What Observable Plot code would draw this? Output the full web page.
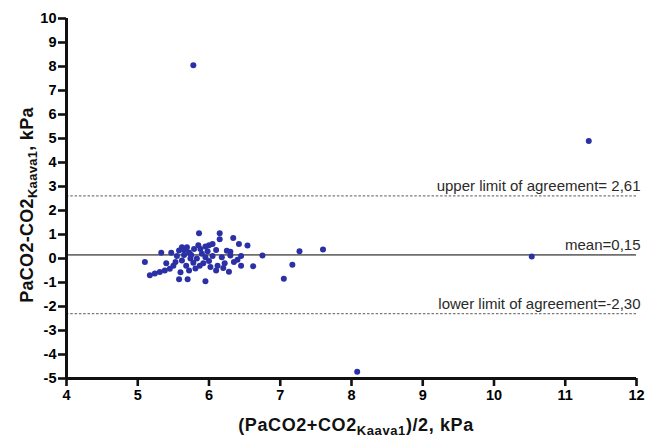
<!DOCTYPE html>
<html>
<head>
<meta charset="utf-8">
<script src="https://cdn.jsdelivr.net/npm/d3@7"></script>
<script src="https://cdn.jsdelivr.net/npm/@observablehq/plot@0.6"></script>
<style>
  html, body { margin: 0; padding: 0; background: #fff; }
  svg { display: block; }
  svg g[aria-label$="tick label"], svg g[aria-label$="tick label"] text {
    font-weight: 700 !important;
    font-family: "Liberation Sans", Arial, sans-serif !important;
  }
</style>
</head>
<body>
<div id="chart"></div>
<script>
const meanValues = [
  5.78, 11.33, 10.53, 8.08,
  7.60, 7.27, 6.75, 7.17, 7.05, 6.62, 6.54, 6.42, 6.34, 6.15, 6.15, 5.86,
  5.10, 5.17, 5.24, 5.31, 5.38, 5.45, 5.33, 5.47, 5.58, 5.62, 5.69, 5.79, 5.88,
  5.53, 5.62, 5.74, 5.83, 5.58, 5.70, 5.60, 5.72, 5.81, 5.95,
  5.55, 5.65, 5.72, 5.90, 5.95, 6.00, 5.85, 5.98, 6.05, 6.10, 6.00, 5.92, 6.02,
  6.10, 5.87, 6.25, 6.30, 6.22, 6.35, 6.30, 6.45, 6.20, 6.28, 6.12, 6.18, 5.78,
  5.68, 5.50, 5.40, 5.65, 5.75, 6.05, 5.95, 6.40, 6.45
];
const diffValues = [
  8.05, 4.90, 0.08, -4.72,
  0.38, 0.30, 0.13, -0.26, -0.84, -0.32, 0.54, 0.60, 0.85, 1.05, 0.80, 1.05,
  -0.15, -0.70, -0.63, -0.56, -0.50, -0.43, 0.24, 0.24, 0.33, 0.47, 0.47, 0.40, 0.40,
  -0.15, -0.08, 0.00, 0.00, -0.86, -0.86, -0.57, -0.50, -0.42, -0.95,
  0.10, 0.15, 0.25, 0.20, 0.50, 0.55, 0.55, 0.30, 0.10, 0.35, -0.10, -0.20, -0.35,
  -0.50, -0.30, 0.32, 0.28, -0.20, -0.15, 0.12, 0.10, -0.40, -0.55, -0.30, 0.05, -0.18,
  -0.30, -0.30, -0.20, 0.35, 0.15, 0.60, 0.05, -0.05, -0.30
];

const meanDiff = [0.15];
const limitValues = [2.61, -2.30];
const annotationLabels = ["upper limit of agreement= 2,61", "mean=0,15", "lower limit of agreement=-2,30"];
const annotationY = [2.61, 0.15, -2.30];

const xTicks = [4, 5, 6, 7, 8, 9, 10, 11, 12];
const yTicks = [-5, -4, -3, -2, -1, 0, 1, 2, 3, 4, 5, 6, 7, 8, 9, 10];

const points = meanValues.map((x, i) => ({x, y: diffValues[i]}));
const annotations = annotationLabels.map((t, i) => ({t, y: annotationY[i]}));

const font = "'Liberation Sans', Arial, Helvetica, sans-serif";

const svg = Plot.plot({
  width: 652,
  height: 437,
  marginLeft: 66,
  marginRight: 16,
  marginTop: 18,
  marginBottom: 59,
  style: {fontFamily: font, background: "#fff", color: "#111"},
  x: {domain: [4, 12]},
  y: {domain: [-5, 10]},
  marks: [
    Plot.ruleY(meanDiff, {y: d => d, stroke: "#6e6e6e", strokeWidth: 1.6}),
    Plot.ruleY(limitValues, {y: d => d, stroke: "#7a7a7a", strokeWidth: 1.2, strokeDasharray: "2.5,1.8"}),
    Plot.text(annotations, {x: 12, y: "y", text: "t", textAnchor: "end", dx: 4, dy: -10,
      fill: "#2a2a2a", fontSize: 15, fontFamily: font}),
    Plot.dot(points, {x: "x", y: "y", r: 3, fill: "#2b30a6", stroke: "none"}),
    Plot.axisX({ticks: xTicks, tickFormat: d => String(d), tickSize: 8, tickPadding: 3,
      strokeWidth: 2.6, stroke: "#111", fill: "#000", fontWeight: "bold", fontSize: 14.5, label: null}),
    Plot.axisY({ticks: yTicks, tickFormat: d => String(d), tickSize: 8, tickPadding: 2,
      strokeWidth: 2.6, stroke: "#111", fill: "#000", fontWeight: "bold", fontSize: 14.5, label: null}),
    Plot.ruleX([4], {stroke: "#111", strokeWidth: 3}),
    Plot.ruleY([-5], {stroke: "#111", strokeWidth: 3})
  ]
});

const s = d3.select(svg);

// X axis title with subscript
const xt = s.append("text")
  .attr("x", 356).attr("y", 431)
  .attr("text-anchor", "middle")
  .attr("font-family", font).attr("font-weight", "bold").attr("font-size", 18)
  .attr("letter-spacing", 0.6)
  .attr("fill", "#111");
xt.append("tspan").text("(PaCO2+CO2");
xt.append("tspan").attr("dy", 4).attr("font-size", 13).text("Kaava1");
xt.append("tspan").attr("dy", -4).text(")/2, kPa");

// Y axis title with subscript
const yt = s.append("text")
  .attr("transform", "translate(33,205) rotate(-90)")
  .attr("text-anchor", "middle")
  .attr("font-family", font).attr("font-weight", "bold").attr("font-size", 18)
  .attr("letter-spacing", 0.3)
  .attr("fill", "#111");
yt.append("tspan").text("PaCO2-CO2");
yt.append("tspan").attr("dy", 4).attr("font-size", 13).text("Kaava1");
yt.append("tspan").attr("dy", -4).text(", kPa");

document.getElementById("chart").appendChild(svg);
</script>
</body>
</html>
